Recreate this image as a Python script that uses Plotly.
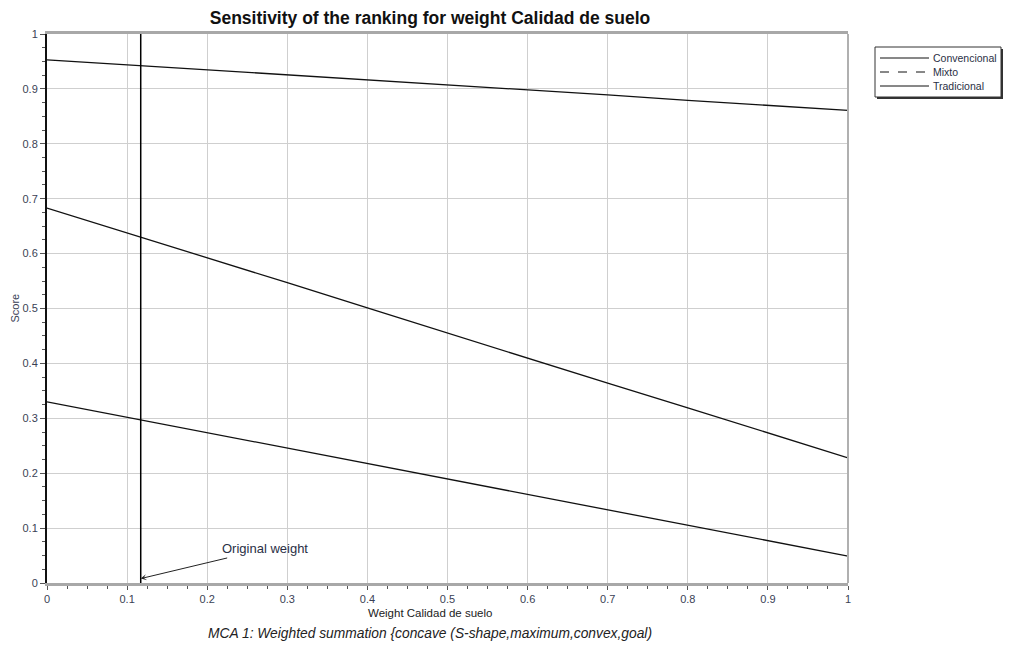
import plotly.graph_objects as go

# weight values along the x axis
weights = [0.0, 0.1, 0.2, 0.3, 0.4, 0.5, 0.6, 0.7, 0.8, 0.9, 1.0]

# scores
convencional = [0.953, 0.944, 0.935, 0.926, 0.916, 0.907, 0.898, 0.889, 0.879, 0.870, 0.861]
mixto = [0.683, 0.638, 0.592, 0.547, 0.501, 0.455, 0.410, 0.364, 0.319, 0.273, 0.228]
tradicional = [0.330, 0.302, 0.274, 0.246, 0.218, 0.190, 0.162, 0.134, 0.106, 0.077, 0.049]

series_names = ["Convencional", "Mixto", "Tradicional"]
series_dash = ["solid", "dash", "solid"]
original_weight = 0.117

tick_vals = [0, 0.1, 0.2, 0.3, 0.4, 0.5, 0.6, 0.7, 0.8, 0.9, 1]
tick_text = ["0", "0.1", "0.2", "0.3", "0.4", "0.5", "0.6", "0.7", "0.8", "0.9", "1"]

FONT = "Liberation Sans, Arial, sans-serif"
TICK_COLOR = "#3a3f55"

# page has an 8px body margin, so the figure starts at (8, 8) and runs to the window edge
W, H = 1003, 637
PLOT_L, PLOT_R, PLOT_T, PLOT_B = 47, 848, 34, 583  # page pixels of the plot area


def px(x):  # page x pixel -> paper x
    return (x - PLOT_L) / (PLOT_R - PLOT_L)


def py(y):  # page y pixel -> paper y
    return (PLOT_B - y) / (PLOT_B - PLOT_T)


fig = go.Figure()

for name, ys in zip(series_names, [convencional, mixto, tradicional]):
    fig.add_trace(go.Scatter(
        x=weights, y=ys, mode="lines", name=name, showlegend=False,
        line=dict(color="#111111", width=1.3)
    ))

# original weight marker
fig.add_shape(type="line", x0=original_weight, x1=original_weight, y0=0, y1=1,
              xref="x", yref="y", line=dict(color="black", width=1.5))
# right frame edge
fig.add_shape(type="line", x0=1, x1=1, y0=0, y1=1, xref="paper", yref="paper",
              line=dict(color="#b0b0b0", width=2))

# ── legend box drawn by hand (compact rows, drop shadow) ──────────────────
fig.add_shape(type="rect", xref="paper", yref="paper",
              x0=px(877), x1=px(1003), y0=py(99), y1=py(49),
              line=dict(width=0), fillcolor="#333333")
fig.add_shape(type="rect", xref="paper", yref="paper",
              x0=px(875), x1=px(1001), y0=py(97), y1=py(47),
              line=dict(color="#333333", width=1), fillcolor="white")
for i, (name, dash) in enumerate(zip(series_names, series_dash)):
    row_y = py(58 + 14 * i)
    fig.add_shape(type="line", xref="paper", yref="paper",
                  x0=px(880), x1=px(929), y0=row_y, y1=row_y,
                  line=dict(color="#111111", width=1, dash=dash))
    fig.add_annotation(x=px(931), y=row_y, xref="paper", yref="paper",
                       xanchor="left", yanchor="middle", text=name, showarrow=False,
                       font=dict(family=FONT, size=10.5, color="#2a2f45"))

fig.add_annotation(
    x=original_weight, y=0.008, ax=0.272, ay=0.062, xref="x", yref="y",
    axref="x", ayref="y", text="Original weight", showarrow=True,
    arrowhead=3, arrowsize=1, arrowwidth=1, arrowcolor="#222222",
    font=dict(family=FONT, size=13, color="#2a2f45")
)

mid_x = px(430)
fig.add_annotation(
    x=mid_x, y=py(613), xref="paper", yref="paper", yanchor="middle",
    text="Weight Calidad de suelo", showarrow=False,
    font=dict(family=FONT, size=11.5, color="#222222")
)
fig.add_annotation(
    x=mid_x, y=py(633), xref="paper", yref="paper", yanchor="middle",
    text="<i>MCA 1: Weighted summation {concave (S-shape,maximum,convex,goal)</i>",
    showarrow=False, font=dict(family=FONT, size=13.8, color="#222222")
)
fig.add_annotation(
    x=px(14), y=0.5, xref="paper", yref="paper", xanchor="center", yanchor="middle",
    text="Score", textangle=-90, showarrow=False,
    font=dict(family=FONT, size=11, color="#3a3f55")
)

fig.update_layout(
    width=W, height=H,
    margin=dict(l=PLOT_L - 8, r=8 + W - PLOT_R, t=PLOT_T - 8, b=8 + H - PLOT_B),
    paper_bgcolor="white", plot_bgcolor="white",
    showlegend=False,
    title=dict(text="<b>Sensitivity of the ranking for weight Calidad de suelo</b>",
               x=(430 - 8) / W, xanchor="center", y=1 - (18 - 8) / H, yanchor="middle",
               font=dict(family=FONT, size=17.5, color="#111111")),
    xaxis=dict(range=[0, 1], tickvals=tick_vals, ticktext=tick_text,
               showgrid=True, gridcolor="#cfcfcf", gridwidth=1.2,
               showline=True, linecolor="#a8a8a8", linewidth=3, mirror=True,
               ticks="outside", ticklen=4, tickcolor="#555555",
               tickfont=dict(family=FONT, size=11, color=TICK_COLOR),
               minor=dict(dtick=0.025, ticks="outside", ticklen=3,
                          tickcolor="#555555", showgrid=False),
               zeroline=False),
    yaxis=dict(range=[0, 1], tickvals=tick_vals, ticktext=tick_text,
               showgrid=True, gridcolor="#cfcfcf", gridwidth=1.2,
               showline=True, linecolor="#111111", linewidth=2, mirror=False,
               ticks="outside", ticklen=5, tickcolor="#555555",
               tickfont=dict(family=FONT, size=11, color=TICK_COLOR),
               minor=dict(dtick=0.025, ticks="outside", ticklen=3,
                          tickcolor="#555555", showgrid=False),
               zeroline=False),
)

fig.write_html("out.html")
